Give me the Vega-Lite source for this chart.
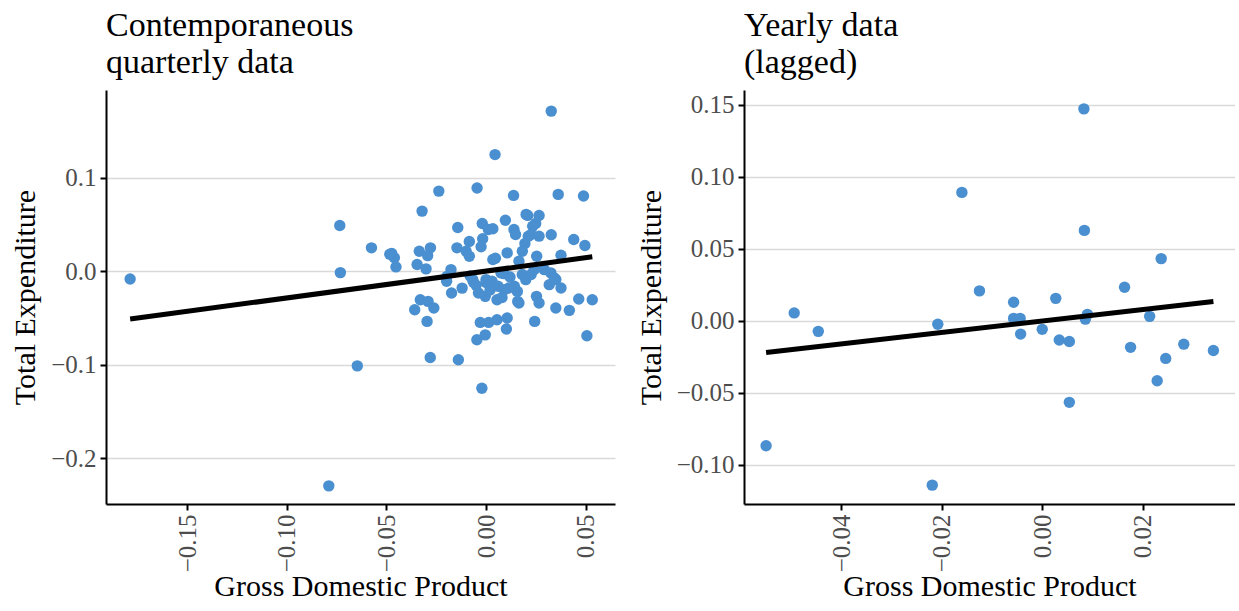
{
  "$schema": "https://vega.github.io/schema/vega-lite/v6.json",
  "padding": {"left": 10, "top": 9, "right": 0, "bottom": 0},
  "background": "white",
  "spacing": 21,
  "datasets": {
    "quarterly": [
      {"gdp": -0.1786, "exp": -0.0082}, {"gdp": -0.0734, "exp": 0.049}, {"gdp": -0.0731, "exp": -0.0014}, {"gdp": -0.0646, "exp": -0.1012},
      {"gdp": -0.0789, "exp": -0.2296}, {"gdp": -0.0575, "exp": 0.0251}, {"gdp": -0.0473, "exp": 0.019}, {"gdp": -0.046, "exp": 0.0144},
      {"gdp": -0.0452, "exp": 0.0047}, {"gdp": -0.0335, "exp": 0.0215}, {"gdp": -0.0279, "exp": 0.0251}, {"gdp": -0.0293, "exp": 0.0168},
      {"gdp": -0.0346, "exp": 0.0072}, {"gdp": -0.0301, "exp": 0.0026}, {"gdp": -0.0321, "exp": 0.0644}, {"gdp": -0.0237, "exp": 0.0858},
      {"gdp": -0.0045, "exp": 0.0891}, {"gdp": 0.0045, "exp": 0.1249}, {"gdp": 0.0327, "exp": 0.1714}, {"gdp": -0.0142, "exp": 0.0469},
      {"gdp": -0.0019, "exp": 0.0512}, {"gdp": 0.0012, "exp": 0.0447}, {"gdp": -0.0017, "exp": 0.0348}, {"gdp": -0.0084, "exp": 0.0319},
      {"gdp": -0.0025, "exp": 0.0262}, {"gdp": -0.0146, "exp": 0.0251}, {"gdp": -0.01, "exp": 0.0215}, {"gdp": -0.0084, "exp": 0.0161},
      {"gdp": -0.0176, "exp": 0.0018}, {"gdp": -0.0196, "exp": -0.0054}, {"gdp": 0.0034, "exp": 0.0126}, {"gdp": -0.0067, "exp": -0.0089},
      {"gdp": 0.0, "exp": -0.0089}, {"gdp": 0.0138, "exp": 0.0812}, {"gdp": 0.0362, "exp": 0.0823}, {"gdp": 0.0489, "exp": 0.0805},
      {"gdp": 0.0209, "exp": 0.0598}, {"gdp": 0.0266, "exp": 0.0598}, {"gdp": 0.0249, "exp": 0.0512}, {"gdp": 0.0097, "exp": 0.0547},
      {"gdp": 0.014, "exp": 0.0447}, {"gdp": 0.0148, "exp": 0.0394}, {"gdp": 0.0212, "exp": 0.0376}, {"gdp": 0.0266, "exp": 0.0376},
      {"gdp": 0.0327, "exp": 0.0391}, {"gdp": 0.044, "exp": 0.034}, {"gdp": 0.0496, "exp": 0.0276}, {"gdp": 0.0195, "exp": 0.0297},
      {"gdp": 0.0182, "exp": 0.0215}, {"gdp": 0.0254, "exp": 0.0161}, {"gdp": 0.0376, "exp": 0.0172}, {"gdp": 0.0106, "exp": 0.0197},
      {"gdp": 0.0047, "exp": 0.014}, {"gdp": 0.0165, "exp": 0.0107}, {"gdp": 0.0234, "exp": 0.0483}, {"gdp": 0.0226, "exp": 0.0394},
      {"gdp": 0.0034, "exp": 0.0455}, {"gdp": 0.0075, "exp": -0.0017}, {"gdp": -0.0198, "exp": -0.0107}, {"gdp": -0.0173, "exp": -0.0232},
      {"gdp": -0.0063, "exp": -0.0118}, {"gdp": -0.0038, "exp": -0.0232}, {"gdp": 0.0, "exp": -0.012}, {"gdp": 0.003, "exp": -0.0107},
      {"gdp": -0.0004, "exp": -0.0268}, {"gdp": 0.0055, "exp": -0.0304}, {"gdp": 0.0089, "exp": -0.0025}, {"gdp": 0.0114, "exp": -0.0178},
      {"gdp": 0.0157, "exp": -0.0215}, {"gdp": 0.0165, "exp": -0.0339}, {"gdp": 0.0182, "exp": -0.0035}, {"gdp": 0.0199, "exp": -0.0089},
      {"gdp": 0.0241, "exp": 0.0018}, {"gdp": 0.0292, "exp": 0.0018}, {"gdp": 0.0325, "exp": -0.0017}, {"gdp": 0.0317, "exp": -0.0143},
      {"gdp": 0.035, "exp": -0.0089}, {"gdp": 0.0376, "exp": -0.0178}, {"gdp": 0.0253, "exp": -0.0268}, {"gdp": 0.0266, "exp": -0.0339},
      {"gdp": 0.035, "exp": -0.0393}, {"gdp": 0.0418, "exp": -0.0418}, {"gdp": 0.0465, "exp": -0.0296}, {"gdp": 0.0533, "exp": -0.0304},
      {"gdp": 0.0506, "exp": -0.069}, {"gdp": -0.033, "exp": -0.0304}, {"gdp": -0.0291, "exp": -0.0322}, {"gdp": -0.0358, "exp": -0.0411},
      {"gdp": -0.0262, "exp": -0.0393}, {"gdp": -0.0296, "exp": -0.0536}, {"gdp": -0.0029, "exp": -0.0547}, {"gdp": 0.0013, "exp": -0.0547},
      {"gdp": 0.0055, "exp": -0.0518}, {"gdp": 0.0106, "exp": -0.05}, {"gdp": 0.0102, "exp": -0.0618}, {"gdp": -0.0004, "exp": -0.068},
      {"gdp": -0.0046, "exp": -0.0733}, {"gdp": 0.0244, "exp": -0.0536}, {"gdp": -0.028, "exp": -0.0923}, {"gdp": -0.0139, "exp": -0.0947},
      {"gdp": -0.0021, "exp": -0.1251}, {"gdp": 0.0343, "exp": -0.0071}, {"gdp": 0.0092, "exp": -0.0196}, {"gdp": 0.0142, "exp": -0.016},
      {"gdp": 0.0159, "exp": -0.0322}, {"gdp": 0.0226, "exp": -0.0035}, {"gdp": 0.0201, "exp": 0.0609}, {"gdp": -0.0483, "exp": 0.0183},
      {"gdp": -0.005, "exp": -0.015}, {"gdp": 0.006, "exp": -0.016}, {"gdp": 0.002, "exp": -0.02}, {"gdp": -0.008, "exp": -0.005},
      {"gdp": 0.012, "exp": -0.006}, {"gdp": -0.012, "exp": -0.018}, {"gdp": 0.008, "exp": -0.028}
    ],
    "quarterlyFit": [{"gdp": -0.1786, "exp": -0.0511}, {"gdp": 0.0533, "exp": 0.0155}],
    "yearly": [
      {"gdp": 0.0083, "exp": 0.1471}, {"gdp": -0.016, "exp": 0.0891}, {"gdp": 0.0084, "exp": 0.0627}, {"gdp": 0.0237, "exp": 0.0431},
      {"gdp": 0.0164, "exp": 0.0232}, {"gdp": -0.0125, "exp": 0.0207}, {"gdp": -0.0057, "exp": 0.0128}, {"gdp": 0.0027, "exp": 0.0155},
      {"gdp": -0.0494, "exp": 0.0054}, {"gdp": -0.0446, "exp": -0.0074}, {"gdp": -0.0208, "exp": -0.0025}, {"gdp": -0.0057, "exp": 0.0016},
      {"gdp": -0.0044, "exp": 0.0016}, {"gdp": -0.0043, "exp": -0.0093}, {"gdp": 0.0, "exp": -0.006}, {"gdp": 0.0034, "exp": -0.0134},
      {"gdp": 0.0054, "exp": -0.0144}, {"gdp": 0.009, "exp": 0.0044}, {"gdp": 0.0086, "exp": 0.0011}, {"gdp": 0.0214, "exp": 0.003},
      {"gdp": 0.0176, "exp": -0.0185}, {"gdp": 0.0246, "exp": -0.0262}, {"gdp": 0.0282, "exp": -0.0163}, {"gdp": 0.0341, "exp": -0.0207},
      {"gdp": 0.0229, "exp": -0.0417}, {"gdp": 0.0054, "exp": -0.0567}, {"gdp": -0.055, "exp": -0.0869}, {"gdp": -0.0219, "exp": -0.1142}
    ],
    "yearlyFit": [{"gdp": -0.055, "exp": -0.0221}, {"gdp": 0.0341, "exp": 0.0134}]
  },
  "hconcat": [
    {
      "width": 509,
      "height": 414,
      "title": {"text": ["Contemporaneous", "quarterly data"]},
      "layer": [
        {
          "data": {"name": "quarterly"},
          "mark": {"type": "circle", "size": 130, "color": "#4A8FD0", "opacity": 1},
          "encoding": {
            "x": {"field": "gdp", "type": "quantitative", "title": "Gross Domestic Product",
                  "scale": {"domain": [-0.1907, 0.0647], "nice": false, "zero": false},
                  "axis": {"values": [-0.15, -0.1, -0.05, 0, 0.05], "format": ".2f"}},
            "y": {"field": "exp", "type": "quantitative", "title": "Total Expenditure",
                  "scale": {"domain": [-0.249, 0.194], "nice": false, "zero": false},
                  "axis": {"values": [-0.2, -0.1, 0, 0.1], "format": ".1f"}}
          }
        },
        {
          "data": {"name": "quarterlyFit"},
          "mark": {"type": "line", "color": "black", "strokeWidth": 5},
          "encoding": {
            "x": {"field": "gdp", "type": "quantitative"},
            "y": {"field": "exp", "type": "quantitative"}
          }
        }
      ]
    },
    {
      "width": 491,
      "height": 414,
      "title": {"text": ["Yearly data", "(lagged)"]},
      "layer": [
        {
          "data": {"name": "yearly"},
          "mark": {"type": "circle", "size": 130, "color": "#4A8FD0", "opacity": 1},
          "encoding": {
            "x": {"field": "gdp", "type": "quantitative", "title": "Gross Domestic Product",
                  "scale": {"domain": [-0.0594, 0.0384], "nice": false, "zero": false},
                  "axis": {"values": [-0.04, -0.02, 0, 0.02], "format": ".2f"}},
            "y": {"field": "exp", "type": "quantitative", "title": "Total Expenditure",
                  "scale": {"domain": [-0.1273, 0.1602], "nice": false, "zero": false},
                  "axis": {"values": [-0.1, -0.05, 0, 0.05, 0.1, 0.15], "format": ".2f"}}
          }
        },
        {
          "data": {"name": "yearlyFit"},
          "mark": {"type": "line", "color": "black", "strokeWidth": 5},
          "encoding": {
            "x": {"field": "gdp", "type": "quantitative"},
            "y": {"field": "exp", "type": "quantitative"}
          }
        }
      ]
    }
  ],
  "config": {
    "font": "Liberation Serif",
    "view": {"stroke": null},
    "axis": {
      "domainColor": "black", "domainWidth": 2, "tickColor": "black", "tickWidth": 2, "tickSize": 6,
      "labelFont": "Liberation Serif", "labelFontSize": 25, "labelColor": "#4d4d4d", "labelPadding": 4,
      "titleFont": "Liberation Serif", "titleFontSize": 30, "titleFontWeight": "normal", "titleColor": "black",
      "titlePadding": 10, "gridColor": "#d9d9d9", "gridWidth": 1.5
    },
    "axisX": {"grid": false, "labelAngle": -90, "titlePadding": 0},
    "axisY": {"grid": true},
    "title": {"font": "Liberation Serif", "fontSize": 34, "fontWeight": "normal", "anchor": "start", "frame": "group", "lineHeight": 37, "color": "black", "offset": 10}
  }
}
